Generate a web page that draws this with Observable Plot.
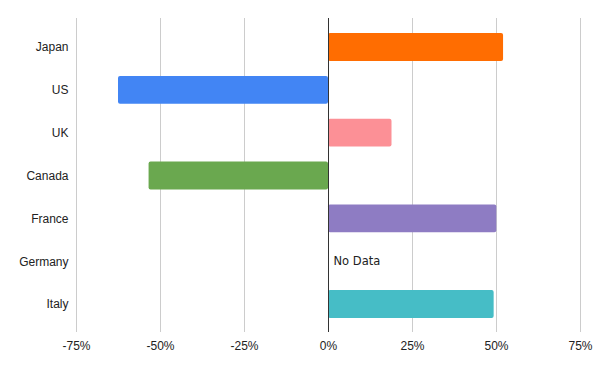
<!DOCTYPE html>
<html>
<head>
<meta charset="utf-8">
<script src="https://cdn.jsdelivr.net/npm/d3@7"></script>
<script src="https://cdn.jsdelivr.net/npm/@observablehq/plot@0.6"></script>
<style>
  html, body { margin: 0; padding: 0; background: #fff; }
  #chart svg { display: block; }
</style>
</head>
<body>
<div id="chart"></div>
<script>
const countries = ["Japan", "US", "UK", "Canada", "France", "Germany", "Italy"];
const values = [0.521, -0.625, 0.189, -0.534, 0.501, null, 0.493];
const colors = ["#ff6d01", "#4285f4", "#fc9096", "#6aa84f", "#8e7cc3", "#ffffff", "#46bdc6"];
const xTicks = [-0.75, -0.5, -0.25, 0, 0.25, 0.5, 0.75];
const noDataLabel = "No Data";

const rows = countries.map((c, i) => ({country: c, value: values[i], color: colors[i]}));
const bars = rows.filter(d => d.value != null);
const missing = rows.filter(d => d.value == null);

const chart = Plot.plot({
  width: 600,
  height: 371,
  marginTop: 18,
  marginBottom: 39,
  marginLeft: 76,
  marginRight: 20,
  style: {fontFamily: "Arial, 'Liberation Sans', sans-serif", fontSize: "12px", color: "#222"},
  x: {domain: [-0.75, 0.75], ticks: xTicks, tickFormat: d => `${Math.round(d * 100)}%`, tickSize: 0, tickPadding: 9, label: null},
  y: {domain: countries, paddingInner: 0.35, paddingOuter: 0.175, round: false, insetTop: 7.6, insetBottom: 6.6, tickSize: 0, tickPadding: 8, label: null},
  marks: [
    Plot.ruleX(xTicks.filter(t => t !== 0), {stroke: "#cccccc", strokeWidth: 1}),
    Plot.barX(bars, {x: "value", y: "country", fill: "color", rx: 2}),
    Plot.ruleX([0], {stroke: "#333333", strokeWidth: 1}),
    Plot.text(missing, {x: 0, y: "country", text: () => noDataLabel, textAnchor: "start", dx: 5,
      fill: "#222", fontFamily: "'DejaVu Sans', Verdana, sans-serif", fontSize: 11.5})
  ]
});
document.getElementById("chart").appendChild(chart);
</script>
</body>
</html>
